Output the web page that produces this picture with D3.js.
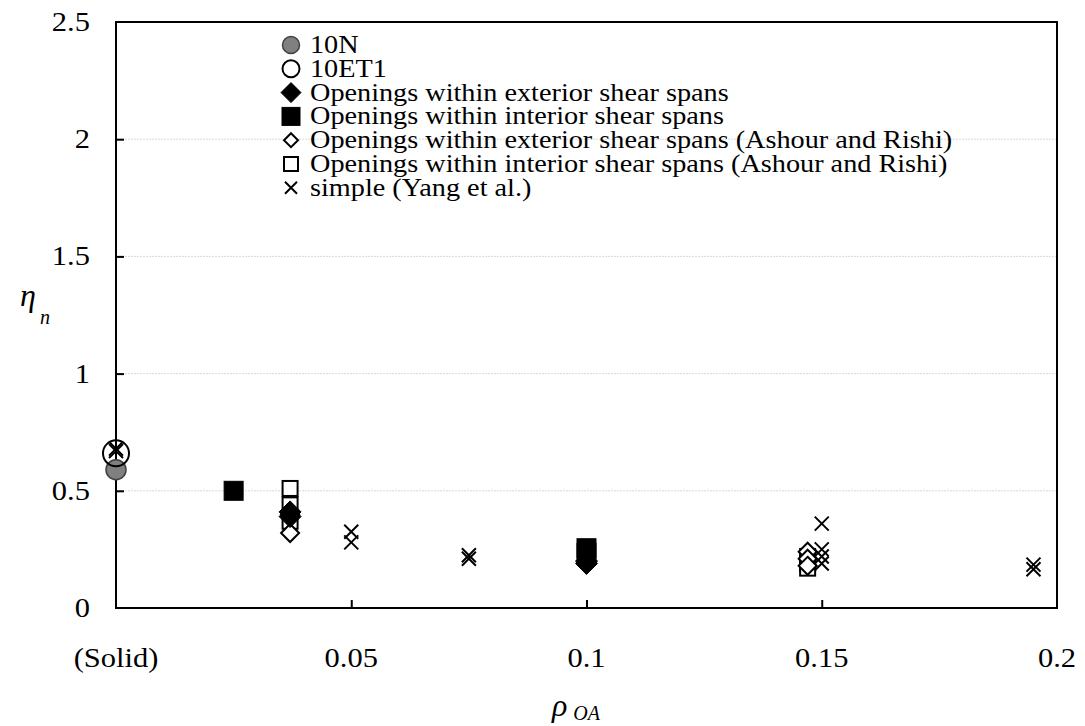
<!DOCTYPE html>
<html>
<head>
<meta charset="utf-8">
<title>eta_n vs rho_OA</title>
<script src="https://d3js.org/d3.v7.min.js"></script>
<style>
  body { margin: 0; background: #fff; }
  text { font-family: "Liberation Serif", "Times New Roman", serif; fill: #000; }
  .grid line { stroke: #d9d9d9; stroke-width: 1; stroke-dasharray: 2 1; }
</style>
</head>
<body>
<svg id="chart" width="1085" height="726"></svg>
<script>
// x positions / y values
var xTicks = [0, 0.05, 0.1, 0.15, 0.2];
var xTickLabels = ["(Solid)", "0.05", "0.1", "0.15", "0.2"];
var yTicks = [0, 0.5, 1, 1.5, 2, 2.5];

var n10 = [[0, 0.59]];
var et1 = [[0, 0.66]];
var extFilled = [[0.037, 0.41], [0.037, 0.39], [0.1, 0.2], [0.1, 0.19]];
var intFilled = [[0.025, 0.5], [0.1, 0.255], [0.1, 0.235]];
var extAshour = [[0.037, 0.40], [0.037, 0.32], [0.147, 0.24], [0.147, 0.21], [0.147, 0.18]];
var intAshour = [[0.037, 0.51], [0.037, 0.44], [0.037, 0.37], [0.147, 0.22], [0.147, 0.19], [0.147, 0.17]];
var yang = [[0, 0.68], [0, 0.67], [0.05, 0.325], [0.05, 0.28], [0.075, 0.225], [0.075, 0.21],
            [0.15, 0.36], [0.15, 0.25], [0.15, 0.22], [0.15, 0.19], [0.195, 0.185], [0.195, 0.165]];

var legendLabels = ["10N", "10ET1", "Openings within exterior shear spans", "Openings within interior shear spans",
  "Openings within exterior shear spans (Ashour and Rishi)", "Openings within interior shear spans (Ashour and Rishi)",
  "simple (Yang et al.)"];

var svg = d3.select("#chart");
var pl = 116, pr = 1057, pt = 22, pb = 608;
var sx = 1.13; // text in the original is a bit wide

var x = d3.scaleLinear().domain([0, 0.2]).range([pl, pr]);
var y = d3.scaleLinear().domain([0, 2.5]).range([pb, pt]);

// text helper: anchored at (tx,ty), stretched horizontally
function label(parent, tx, ty, size, anchor, str) {
  return parent.append("text")
    .attr("transform", "translate(" + tx + "," + ty + ") scale(" + sx + ",1)")
    .attr("font-size", size).attr("text-anchor", anchor).text(str);
}

// gridlines
svg.append("g").attr("class", "grid")
  .selectAll("line").data(yTicks.filter(function(d) { return d > 0 && d < 2.5; }))
  .join("line")
  .attr("x1", pl).attr("x2", pr)
  .attr("y1", function(d) { return y(d); }).attr("y2", function(d) { return y(d); });

// frame
svg.append("rect").attr("x", pl).attr("y", pt).attr("width", pr - pl).attr("height", pb - pt)
  .attr("fill", "none").attr("stroke", "#000").attr("stroke-width", 2);

// axes, ticks inward
var xAxis = svg.append("g").attr("transform", "translate(0," + pb + ")")
  .call(d3.axisBottom(x).tickValues(xTicks.slice(1, 4)).tickSize(-8).tickFormat(""));
var yAxis = svg.append("g").attr("transform", "translate(" + pl + ",0)")
  .call(d3.axisLeft(y).tickValues(yTicks.slice(1, 5)).tickSize(-8).tickFormat(""));
[xAxis, yAxis].forEach(function(a) {
  a.select(".domain").remove();
  a.selectAll(".tick line").attr("stroke", "#000").attr("stroke-width", 2);
});

// tick labels
var xl = svg.append("g");
xTicks.forEach(function(d, i) { label(xl, x(d), 667, 27, "middle", xTickLabels[i]); });
var yl = svg.append("g");
yTicks.forEach(function(d) { label(yl, 90, y(d) + 9, 27, "end", d); });

// axis titles
var yt = svg.append("text").attr("x", 20).attr("y", 306).attr("font-size", 32).attr("font-style", "italic");
yt.append("tspan").text("\u03B7");
yt.append("tspan").attr("dx", 4).attr("dy", 18).attr("font-size", 20).text("n");
var xt = svg.append("text").attr("x", 552).attr("y", 716).attr("font-size", 32).attr("font-style", "italic");
xt.append("tspan").text("\u03C1");
xt.append("tspan").attr("dx", 6).attr("dy", 4).attr("font-size", 20).text("OA");

// marker shapes
function circle(r) { return function(s) { s.append("circle").attr("r", r); }; }
function square(h) { return function(s) { s.append("rect").attr("x", -h).attr("y", -h).attr("width", 2 * h).attr("height", 2 * h); }; }
function diamond(h) { return function(s) { s.append("path").attr("d", "M0," + (-h) + "L" + h + ",0L0," + h + "L" + (-h) + ",0Z"); }; }
function cross(h) { return function(s) { s.append("path").attr("d", "M" + (-h) + "," + (-h) + "L" + h + "," + h + "M" + h + "," + (-h) + "L" + (-h) + "," + h); }; }

var series = [
  { data: n10, shape: circle(10), fill: "#808080", stroke: "#404040", sw: 1.5, leg: circle(8.5) },
  { data: et1, shape: circle(13), fill: "none", stroke: "#000", sw: 2, leg: circle(8.5) },
  { data: extFilled, shape: diamond(11), fill: "#000", stroke: "#000", sw: 1, leg: diamond(10) },
  { data: intFilled, shape: square(9.5), fill: "#000", stroke: "#000", sw: 1, leg: square(9) },
  { data: extAshour, shape: diamond(9), fill: "#fff", stroke: "#000", sw: 2, leg: diamond(7) },
  { data: intAshour, shape: square(7.5), fill: "#fff", stroke: "#000", sw: 2, leg: square(7) },
  { data: yang, shape: cross(7), fill: "none", stroke: "#000", sw: 2, leg: cross(6) }
];

// draw order: open squares/diamonds, filled ones, circles, then crosses
[5, 4, 3, 2, 0, 1, 6].forEach(function(i) {
  var sr = series[i];
  svg.append("g").selectAll("g").data(sr.data).join("g")
    .attr("transform", function(d) { return "translate(" + x(d[0]) + "," + y(d[1]) + ")"; })
    .attr("fill", sr.fill).attr("stroke", sr.stroke).attr("stroke-width", sr.sw)
    .each(function() { sr.shape(d3.select(this)); });
});

// legend
var leg = svg.append("g");
legendLabels.forEach(function(lab, i) {
  var sr = series[i];
  var cy = 45 + i * 23.8;
  var m = leg.append("g").attr("transform", "translate(291," + cy + ")")
    .attr("fill", sr.fill).attr("stroke", sr.stroke).attr("stroke-width", sr.sw);
  sr.leg(m);
  label(leg, 310, cy + 8, 25, "start", lab);
});
</script>
</body>
</html>
